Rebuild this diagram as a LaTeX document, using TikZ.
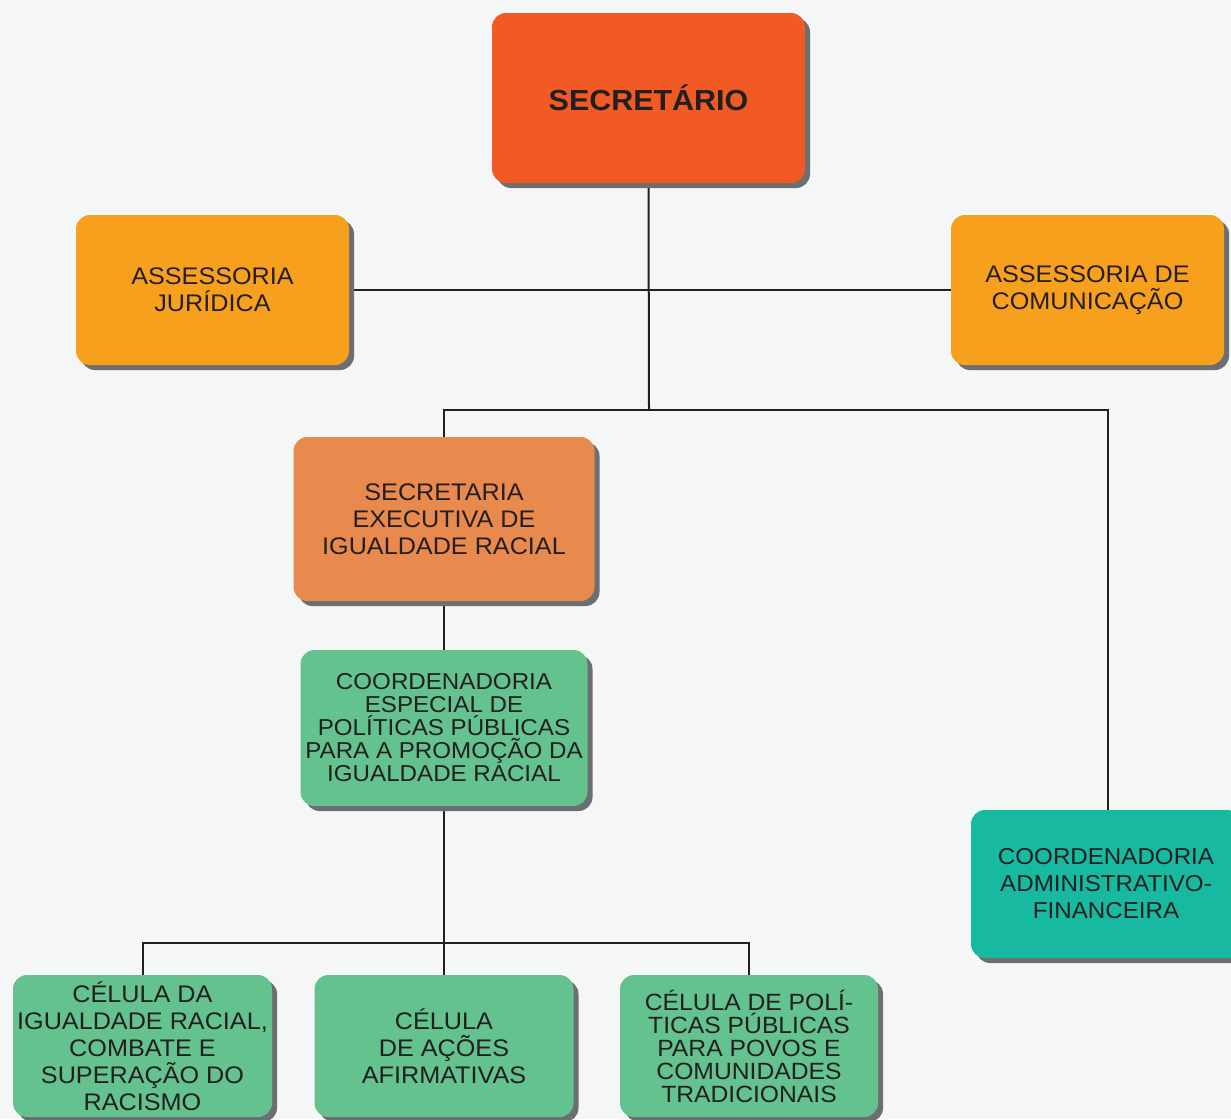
\documentclass[tikz,border=0pt]{standalone}
\usepackage{fontspec}
\setmainfont{Liberation Sans}[FakeStretch=1.05]
\usetikzlibrary{shadows,backgrounds}
\definecolor{bgc}{HTML}{F5F7F6}
\definecolor{txt}{HTML}{231F20}
\definecolor{shd}{HTML}{6D6E71}
\definecolor{cred}{HTML}{F15A24}
\definecolor{cyel}{HTML}{F7A01E}
\definecolor{corg}{HTML}{E8894E}
\definecolor{cgrn}{HTML}{63C28E}
\definecolor{ctea}{HTML}{17B9A1}
\begin{document}
\begin{tikzpicture}[x=1pt,y=-1pt,
  box/.style={rounded corners=14pt, draw=none, align=center, text=txt,
    inner sep=0pt, outer sep=0pt,
    font=\fontsize{24}{27}\selectfont,
    drop shadow={shadow xshift=5pt, shadow yshift=-5pt, fill=shd, opacity=1}},
  tight/.style={font=\fontsize{23}{23}\selectfont},
  conn/.style={draw=txt, line width=2pt}]
\clip (0,0) rectangle (1231,1119);
\node[box, fill=cred, minimum width=313pt, minimum height=170pt,
  font=\fontsize{29}{32}\selectfont\bfseries] (sec) at (648.5,98) {SECRET\'ARIO};
\node[box, fill=cyel, minimum width=273pt, minimum height=150pt] (aj) at (212.5,290) {ASSESSORIA\\JUR\'IDICA};
\node[box, fill=cyel, minimum width=273pt, minimum height=150pt] (ac) at (1087.5,290) {ASSESSORIA DE\\COMUNICA\c{C}\~AO};
\node[box, fill=corg, minimum width=301pt, minimum height=164pt] (se) at (444,519) {SECRETARIA\\EXECUTIVA DE\\IGUALDADE RACIAL};
\node[box, tight, fill=cgrn, minimum width=287pt, minimum height=156pt] (ce) at (444,728) {COORDENADORIA\\ESPECIAL DE\\POL\'ITICAS P\'UBLICAS\\PARA A PROMO\c{C}\~AO DA\\IGUALDADE RACIAL};
\node[box, fill=ctea, minimum width=270pt, minimum height=148pt, font=\fontsize{23}{27}\selectfont] (caf) at (1106,884) {COORDENADORIA\\ADMINISTRATIVO-\\FINANCEIRA};
\node[box, fill=cgrn, minimum width=259pt, minimum height=142pt] (c1) at (142.5,1046) {C\'ELULA DA\\IGUALDADE RACIAL,\\COMBATE E\\SUPERA\c{C}\~AO DO\\RACISMO};
\node[box, fill=cgrn, minimum width=259pt, minimum height=142pt] (c2) at (444,1046) {C\'ELULA\\DE A\c{C}\~OES\\AFIRMATIVAS};
\node[box, fill=cgrn, minimum width=258pt, minimum height=142pt, font=\fontsize{23.5}{23}\selectfont] (c3) at (749,1046) {C\'ELULA DE POL\'I-\\TICAS P\'UBLICAS\\PARA POVOS E\\COMUNIDADES\\TRADICIONAIS};
\coordinate (j1) at (649,410);
\coordinate (jr) at (1108,410);
\coordinate (j2) at (444,943);
\begin{scope}[on background layer]
\fill[bgc] (0,0) rectangle (1231,1119);
\draw[conn] (sec.south) -- (j1);
\draw[conn] (aj.east) -- (ac.west);
\draw[conn] (se.north) |- (jr) -- (jr |- caf.north);
\draw[conn] (se.south) -- (ce.north);
\draw[conn] (ce.south) -- (c2.north);
\draw[conn] (c1.north) |- (j2) -| (c3.north);
\end{scope}
\end{tikzpicture}
\end{document}
